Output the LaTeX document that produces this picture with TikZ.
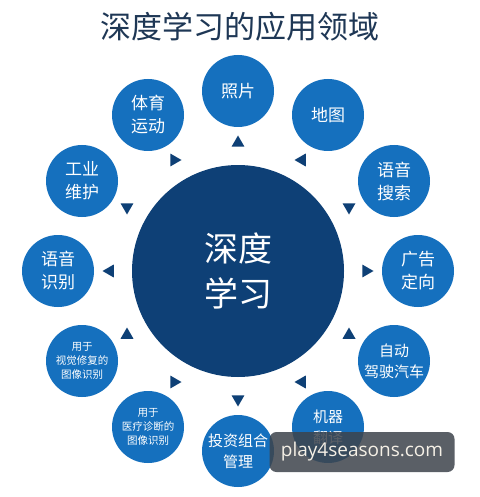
\documentclass[tikz,border=0pt]{standalone}
\usepackage{fontspec}
\setmainfont{Noto Sans CJK SC}
\newfontfamily\wmfont{Open Sans}
\usetikzlibrary{shapes.geometric}
\definecolor{dlnavy}{RGB}{14,64,118}
\definecolor{dlblue}{RGB}{21,112,190}
\definecolor{titlecol}{RGB}{30,55,85}
\definecolor{wmgray}{RGB}{62,68,76}
\tikzset{
  area/.style={circle, fill=dlblue, text=white, minimum size=72pt, inner sep=0pt, align=center, font=\fontsize{17}{23}\selectfont},
  areamid/.style={area, font=\fontsize{15}{21}\selectfont},
  areasmall/.style={area, font=\fontsize{10.5}{14}\selectfont},
  tri/.style={regular polygon, regular polygon sides=3, fill=dlnavy, inner sep=0pt, minimum size=15pt},
}
\begin{document}
\begin{tikzpicture}[x=1pt, y=-1pt]
\useasboundingbox[fill=white] (0,0) rectangle (479,497);
\node[text=titlecol, font=\fontsize{31}{31}\selectfont] (title) at (240,27) {深度学习的应用领域};
\node[circle, fill=dlnavy, minimum size=212pt, text=white, align=center, font=\fontsize{34}{45}\selectfont] (dl) at (238,271) {深度\\学习};

\node[area] (a0) at (418,271) {广告\\定向};
\node[tri, rotate=-90] (t0) at (366,271) {};
\node[area] (a30) at (394,181) {语音\\搜索};
\node[tri, rotate=180] (t30) at (349,207) {};
\node[area] (a60) at (328,115) {地图};
\node[tri, rotate=90] (t60) at (302,160) {};
\node[area] (a90) at (238,91) {照片};
\node[tri] (t90) at (238,143) {};
\node[area] (a120) at (148,115) {体育\\运动};
\node[tri, rotate=-90] (t120) at (174,160) {};
\node[area] (a150) at (82,181) {工业\\维护};
\node[tri, rotate=180] (t150) at (127,207) {};
\node[area] (a180) at (58,271) {语音\\识别};
\node[tri, rotate=90] (t180) at (110,271) {};
\node[areasmall] (a210) at (82,361) {用于\\视觉修复的\\图像识别};
\node[tri] (t210) at (127,335) {};
\node[areasmall] (a240) at (148,427) {用于\\医疗诊断的\\图像识别};
\node[tri, rotate=-90] (t240) at (174,382) {};
\node[areamid] (a270) at (238,451) {投资组合\\管理};
\node[tri, rotate=180] (t270) at (238,399) {};
\node[areamid] (a300) at (328,427) {机器\\翻译};
\node[tri, rotate=90] (t300) at (302,382) {};
\node[areamid] (a330) at (394,361) {自动\\驾驶汽车};
\node[tri] (t330) at (349,335) {};

\node[fill=wmgray, fill opacity=0.85, text opacity=1, rounded corners=7pt, minimum width=185pt, minimum height=40pt, text={rgb,255:red,245;green,240;blue,230}, font=\wmfont\fontsize{19}{19}\selectfont] (wm) at (362,452) {play4seasons.com};
\end{tikzpicture}
\end{document}
